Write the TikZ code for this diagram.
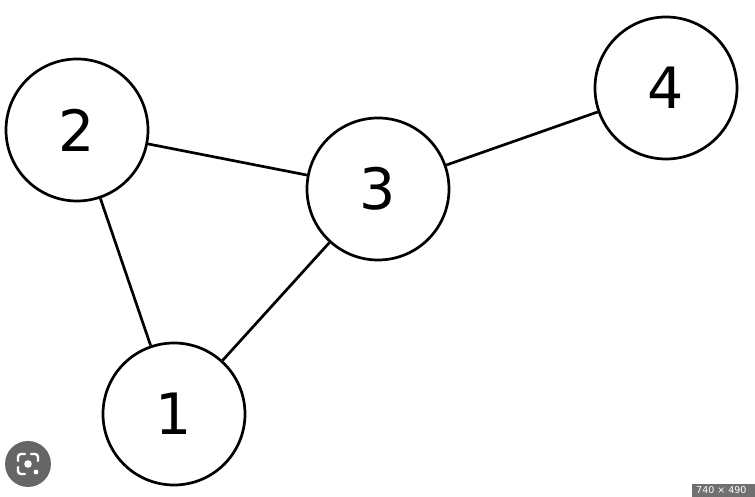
\documentclass[tikz,border=0pt]{standalone}
\usepackage{fontspec}
\setmainfont{DejaVu Sans}
\usetikzlibrary{calc}
\definecolor{lensgray}{RGB}{102,102,102}
\definecolor{badgegray}{RGB}{112,112,112}
\tikzset{
    vertex/.style={draw, circle, line width=2.7pt, minimum size=142pt, inner sep=0pt,
                   font=\fontsize{57}{60}\selectfont},
    edge/.style={line width=2.7pt},
  }
\begin{document}
\begin{tikzpicture}[x=1pt,y=1pt]
                  %cadre de la capture 755x497
                  \useasboundingbox (0,0) rectangle (755,497);
                  \node[vertex] (n1) at (174,83) {1};
                  \node[vertex] (n2) at (77,367) {2};
                  \node[vertex] (n3) at (378,308) {3};
                  \node[vertex] (n4) at (666,409) {4};
                  \draw [edge] (n2) -- (n3);
                  \draw [edge] (n2) -- (n1);
                  \draw [edge] (n1) -- (n3);
                  \draw [edge] (n3) -- (n4);
                  %icone loupe
                  \node[circle, fill=lensgray, minimum size=46pt, inner sep=0pt] (lens) at (28,33) {};
                  \draw [white, line width=2.4pt, line cap=round]
                        ($(lens)+(-10,3)$) -- ($(lens)+(-10,7)$) arc[start angle=180, end angle=90, radius=3] -- ($(lens)+(-3,10)$)
                        ($(lens)+(3,10)$) -- ($(lens)+(7,10)$) arc[start angle=90, end angle=0, radius=3] -- ($(lens)+(10,3)$)
                        ($(lens)+(-10,-3)$) -- ($(lens)+(-10,-7)$) arc[start angle=180, end angle=270, radius=3] -- ($(lens)+(-3,-10)$);
                  \fill [white] (lens) circle (3.8);
                  \fill [white] ($(lens)+(8,-8)$) circle (2.4);
                  %badge taille
                  \fill [badgegray] (692,0) rectangle (760,13);
                  \node[anchor=base west, text=white, font=\fontsize{9.5}{10}\selectfont, inner sep=0pt] (size) at (696,3) {740 × 490};
\end{tikzpicture}
\end{document}
